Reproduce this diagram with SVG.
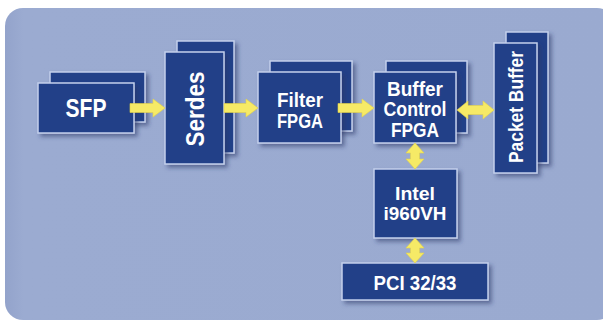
<svg xmlns="http://www.w3.org/2000/svg" width="603" height="321" viewBox="0 0 603 321">
  <defs>
    <filter id="sh" x="-20%" y="-20%" width="150%" height="150%">
      <feDropShadow dx="3" dy="3" stdDeviation="2" flood-color="#2b3766" flood-opacity="0.55"/>
    </filter>
    <linearGradient id="pan" x1="0" y1="0" x2="1" y2="0">
      <stop offset="0" stop-color="#93a3cb"/>
      <stop offset="0.03" stop-color="#9babd1"/>
      <stop offset="1" stop-color="#9aaad0"/>
    </linearGradient>
  </defs>
  <style>
    .box { fill: #213f88; stroke: #c3d0ec; stroke-width: 1.5; filter: url(#sh); }
    .lbl { fill: #ffffff; font-family: "Liberation Sans", Arial, sans-serif; font-weight: bold; text-anchor: middle; }
    .arr { fill: #f6ea66; stroke: #e6d445; stroke-width: 0.6; }
  </style>
  <rect x="0" y="0" width="603" height="321" fill="#ffffff"/>
  <rect x="5" y="8" width="610" height="312" rx="18" ry="18" fill="url(#pan)"/>

  <g id="sfp">
    <rect class="box" x="50" y="72" width="95" height="50"/>
    <rect class="box" x="38" y="83" width="96" height="50"/>
    <text class="lbl" x="86" y="117" font-size="26" textLength="41" lengthAdjust="spacingAndGlyphs">SFP</text>
  </g>
  <g id="serdes">
    <rect class="box" x="177" y="41" width="57" height="112"/>
    <rect class="box" x="165" y="52" width="59" height="112"/>
    <text class="lbl" transform="translate(204,109) rotate(-90)" font-size="25" textLength="75" lengthAdjust="spacingAndGlyphs">Serdes</text>
  </g>
  <g id="filter">
    <rect class="box" x="270" y="61" width="82" height="70"/>
    <rect class="box" x="258" y="72" width="83" height="71"/>
    <text class="lbl" x="300" y="106.5" font-size="21" textLength="46" lengthAdjust="spacingAndGlyphs">Filter</text>
    <text class="lbl" x="300" y="127.5" font-size="21" textLength="46" lengthAdjust="spacingAndGlyphs">FPGA</text>
  </g>
  <g id="buffer">
    <rect class="box" x="386" y="61" width="81" height="72"/>
    <rect class="box" x="374" y="72" width="82" height="71"/>
    <text class="lbl" x="415" y="95.5" font-size="20" textLength="56" lengthAdjust="spacingAndGlyphs">Buffer</text>
    <text class="lbl" x="415" y="116" font-size="20" textLength="63" lengthAdjust="spacingAndGlyphs">Control</text>
    <text class="lbl" x="415" y="136.5" font-size="20" textLength="48" lengthAdjust="spacingAndGlyphs">FPGA</text>
  </g>
  <g id="packet">
    <rect class="box" x="506" y="32" width="42" height="131"/>
    <rect class="box" x="494" y="43" width="43" height="130"/>
    <text class="lbl" transform="translate(523,107) rotate(-90)" font-size="20" textLength="112" lengthAdjust="spacingAndGlyphs">Packet Buffer</text>
  </g>
  <g id="intel">
    <rect class="box" x="374" y="169" width="83" height="69"/>
    <text class="lbl" x="415" y="199.5" font-size="19" textLength="40" lengthAdjust="spacingAndGlyphs">Intel</text>
    <text class="lbl" x="415" y="219.5" font-size="19" textLength="63" lengthAdjust="spacingAndGlyphs">i960VH</text>
  </g>
  <g id="pci">
    <rect class="box" x="342" y="263" width="146" height="37"/>
    <text class="lbl" x="415" y="289.5" font-size="20" textLength="83" lengthAdjust="spacingAndGlyphs">PCI 32/33</text>
  </g>

  <g id="connectors">
    <path class="arr" d="M130,103.5 H153 V99 L165,108 L153,117 V112.5 H130 Z"/>
    <path class="arr" d="M224,103.5 H246 V99 L258,108 L246,117 V112.5 H224 Z"/>
    <path class="arr" d="M338,103.5 H362 V99 L374,108 L362,117 V112.5 H338 Z"/>
    <path class="arr" d="M457,110 L468,101 V105.5 H483 V101 L494,110 L483,119 V114.5 H468 V119 Z"/>
    <path class="arr" d="M415,143 L424,153 H419.5 V159 H424 L415,169 L406,159 H410.5 V153 H406 Z"/>
    <path class="arr" d="M415,238 L424,248 H419.5 V253 H424 L415,263 L406,253 H410.5 V248 H406 Z"/>
  </g>
</svg>
